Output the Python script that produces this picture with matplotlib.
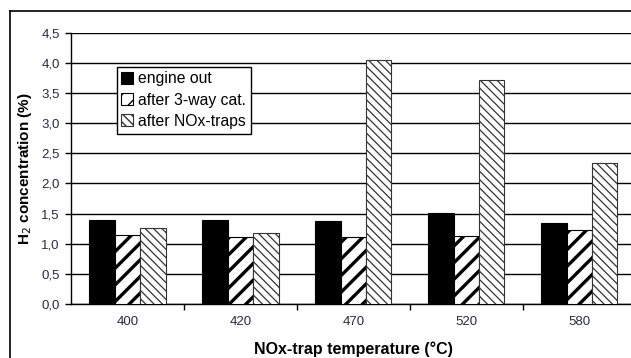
import numpy as np
import matplotlib
matplotlib.use('Agg')
import matplotlib.pyplot as plt
from matplotlib.lines import Line2D
from matplotlib.ticker import FuncFormatter

plt.rcParams['font.family'] = ['Liberation Sans', 'DejaVu Sans']

temperatures = ['400', '420', '470', '520', '580']
engine_out = [1.40, 1.40, 1.38, 1.51, 1.34]
after_3way = [1.14, 1.11, 1.11, 1.13, 1.23]
after_nox = [1.26, 1.17, 4.05, 3.72, 2.34]

fig = plt.figure(figsize=(6.31, 3.58), dpi=100)
ax = fig.add_axes([0.1125, 0.151, 0.895, 0.757])

x = np.arange(len(temperatures))
w = 0.225

ax.bar(x - w, engine_out, w, color='black', edgecolor='black', linewidth=0.8,
       label='engine out', zorder=3)
with plt.rc_context({'hatch.linewidth': 2.4}):
    ax.bar(x, after_3way, w, color='white', edgecolor='black', hatch='//',
           linewidth=0.8, label='after 3-way cat.', zorder=3)
with plt.rc_context({'hatch.linewidth': 0.9}):
    ax.bar(x + w, after_nox, w, color='white', edgecolor='#333333', hatch='\\\\\\\\',
           linewidth=0.8, label='after NOx-traps', zorder=3)

ax.set_xlim(-0.5, 4.5)
ax.set_ylim(0, 4.5)
ax.set_yticks(np.arange(0, 4.51, 0.5))
ax.yaxis.set_major_formatter(FuncFormatter(lambda v, p: f'{v:.1f}'.replace('.', ',')))
ax.set_xticks(x)
ax.set_xticklabels(temperatures)
ax.set_xticks(np.arange(0.5, 4.5, 1), minor=True)
ax.tick_params(axis='x', which='major', length=0, pad=9, labelsize=9.5, labelcolor='#2a2a40')
ax.tick_params(axis='x', which='minor', length=4, width=1, direction='out')
ax.tick_params(axis='y', length=4, width=1, labelsize=9.5, labelcolor='#2a2a40', pad=4)

ax.grid(axis='y', color='black', linewidth=1.0, zorder=0)
ax.set_axisbelow(True)
for s in ['top', 'right']:
    ax.spines[s].set_visible(False)
ax.spines['left'].set_linewidth(1.0)
ax.spines['bottom'].set_linewidth(1.0)

ax.set_ylabel('H$_2$ concentration (%)', fontsize=11, fontweight='bold', labelpad=5)
ax.set_xlabel('NOx-trap temperature (°C)', fontsize=11.5, fontweight='bold', labelpad=9)

leg = ax.legend(loc='upper left', bbox_to_anchor=(0.081, 0.876), fontsize=11.3,
                frameon=True, fancybox=False, framealpha=1, edgecolor='black',
                handlelength=0.75, handleheight=0.8, handletextpad=0.3,
                borderpad=0.3, labelspacing=0.4, borderaxespad=0)
leg.get_frame().set_linewidth(1.0)

# outer frame around the chart
fig.add_artist(Line2D([10 / 631, 10 / 631], [0, 1 - 11 / 358], color='black', linewidth=1.2))
fig.add_artist(Line2D([10 / 631, 1], [1 - 11 / 358, 1 - 11 / 358], color='black', linewidth=1.2))

fig.savefig('out.png', dpi=100)
